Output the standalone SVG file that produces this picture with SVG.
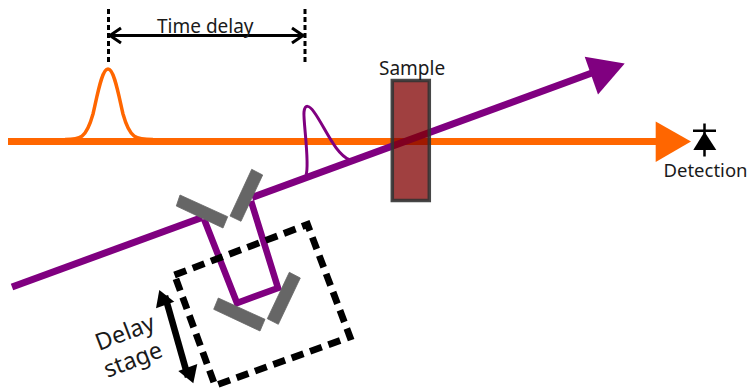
<svg xmlns="http://www.w3.org/2000/svg" width="748" height="390" viewBox="0 0 748 390">
<style>
text{font-family:"Noto Sans","Open Sans","DejaVu Sans",sans-serif;fill:#1a1a1a}
.l{font-size:19px}
.d{font-size:18.500px}
.s{font-size:23.500px}
.mirror{fill:#666;stroke:#666;stroke-width:.8}
.beam{fill:none;stroke:#800080;stroke-width:7}
.inner{fill:none;stroke:#800080;stroke-width:6.500;stroke-linejoin:miter}
.dash{stroke:#000;stroke-width:3;stroke-dasharray:5 3;fill:none}
</style>
<rect width="748" height="390" fill="#fff"/>
<g id="connectors">
<path d="M8 141.500H660" fill="none" stroke="#f60" stroke-width="7"/>
<polygon points="655.700,121.500 691,141.500 655.700,162" fill="#f60"/>
<path class="beam" d="M12 287L202 217.500"/>
<path class="beam" d="M252 197.500L600 70"/>
<polygon points="584.700,56.700 624.700,63.500 598,94.500" fill="#800080"/>
<path class="inner" d="M204 219L237 303L278 288L251 201"/>
<path class="dash" d="M108.500 9V62"/>
<path class="dash" d="M305 9V62"/>
<path d="M110 35.500H303M121 28L110 35.500L121 43M292 28L303 35.500L292 43" fill="none" stroke="#000" stroke-width="3"/>
<path d="M65 139.500C80 139.500 86 139 93 114C98 92 102 69 108 69C114 69 118 92 123 114C130 139 136 139.500 153 139.500" fill="none" stroke="#f60" stroke-width="3.500"/>
<path d="M306 175C310 165 303 120 304 112C305 104 309 105 314 112C325 127 335 154 350 160" fill="none" stroke="#800080" stroke-width="3"/>
<path d="M165 296L188 377" fill="none" stroke="#000" stroke-width="6.500"/>
<polygon points="159.300,290 174.300,301.700 156,308.300"/>
<polygon points="193.300,383.300 178.300,371 197.300,364"/>
</g>
<g id="delay-stage">
<path d="M174.500 275L307.500 224.500L350 337L215 385.500Z" fill="none" stroke="#000" stroke-width="6.800" stroke-dasharray="12.500 7"/>
<text class="s" transform="translate(99 351) rotate(-21)">Delay</text>
<text class="s" transform="translate(107.500 378) rotate(-21)">stage</text>
</g>
<g id="mirror-1"><polygon class="mirror" points="180,195 227.700,216.700 223,228 176.300,206"/></g>
<g id="mirror-2"><polygon class="mirror" points="251.700,169.300 262.700,175 241,221.300 230,216"/></g>
<g id="mirror-3"><polygon class="mirror" points="218.300,298 265,319.300 260,331 213.700,309.300"/></g>
<g id="mirror-4"><polygon class="mirror" points="289.300,272.300 300.300,278 278.300,324.300 267.300,318.700"/></g>
<g id="sample">
<rect x="392.300" y="80.500" width="37" height="120" fill="#800000" fill-opacity=".75" stroke="#333" stroke-opacity=".9" stroke-width="3.500"/>
<text class="l" x="379" y="74.500">Sample</text>
</g>
<g id="detector">
<path d="M704.500 123.500V156.500M693 130.700H716" fill="none" stroke="#000" stroke-width="2.500"/>
<polygon points="704.500,131.700 716.300,150 693.300,150"/>
<text class="d" x="663.500" y="177">Detection</text>
</g>
<g id="time-delay"><text class="l" x="157" y="33">Time delay</text></g>
</svg>
